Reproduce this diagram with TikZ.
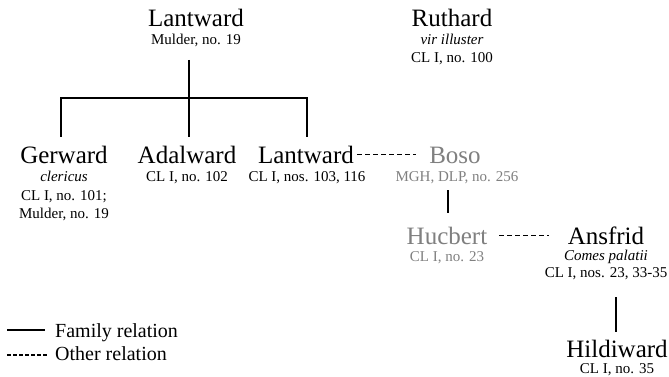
\documentclass[tikz,border=0pt]{standalone}
\usepackage{fontspec}
\setmainfont{Liberation Serif}
\begin{document}
\begin{tikzpicture}[x=1pt,y=-1pt,
  pname/.style={font=\fontsize{25}{30}\selectfont, inner sep=0pt, anchor=base},
  psub/.style={font=\fontsize{15}{18}\selectfont, inner sep=0pt, anchor=base},
  legtext/.style={font=\fontsize{20}{24}\selectfont, inner sep=0pt, anchor=base west},
  faded/.style={text=black!50},
  family/.style={line width=1.6pt},
  other/.style={line width=1.5pt, dash pattern=on 5pt off 3pt}]
\useasboundingbox[fill=white] (0,0) rectangle (669,377);

% top generation
\node[pname] (lwA) at (196,27) {Lantward};
\node[psub] (lwAs) at (196,45) {Mulder, no. 19};
\node[pname] (ruth) at (452,27) {Ruthard};
\node[psub] (ruths1) at (452,45) {\itshape vir illuster};
\node[psub] (ruths2) at (452,63) {CL I, no. 100};

% children
\node[pname] (gerw) at (64,163) {Gerward};
\node[psub] (gerws1) at (64,181) {\itshape clericus};
\node[psub] (gerws2) at (64,200) {CL I, no. 101;};
\node[psub] (gerws3) at (64,218) {Mulder, no. 19};
\node[pname] (adal) at (187,163) {Adalward};
\node[psub] (adals) at (187,181) {CL I, no. 102};
\node[pname] (lwB) at (306,163) {Lantward};
\node[psub] (lwBs) at (307,181) {CL I, nos. 103, 116};

% other persons
\node[pname,faded] (boso) at (455,163) {Boso};
\node[psub,faded] (bosos) at (457,181) {MGH, DLP, no. 256};
\node[pname,faded] (hucb) at (447,244) {Hucbert};
\node[psub,faded] (hucbs) at (447,261) {CL I, no. 23};
\node[pname] (ansf) at (606,244) {Ansfrid};
\node[psub] (ansfs1) at (606,260) {\itshape Comes palatii};
\node[psub] (ansfs2) at (606,277) {CL I, nos. 23, 33-35};
\node[pname] (hild) at (617,357) {Hildiward};
\node[psub] (hilds) at (617,373) {CL I, no. 35};

% family tree of Lantward
\coordinate (top) at (189,60);
\coordinate (mid) at (189,98);
\coordinate (gl) at (61,98);
\coordinate (gr) at (307,98);
\coordinate (gld) at (61,137);
\coordinate (gmd) at (189,137);
\coordinate (grd) at (307,137);
\draw[family] (top) -- (gmd);
\draw[family] (gld) -- (gl) -- (gr) -- (grd);

% other relations
\draw[other] ([xshift=3pt]lwB.east) -- ([xshift=-13pt]lwB.east -| boso.west);
\draw[other] ([xshift=12pt]hucb.east) -- ([xshift=-19pt]hucb.east -| ansf.west);

% family links on the right
\coordinate (bh1) at (448,190);
\coordinate (bh2) at (448,213);
\draw[family] (bh1) -- (bh2);
\coordinate (ah1) at (616,297);
\coordinate (ah2) at (616,332);
\draw[family] (ah1) -- (ah2);

% legend
\coordinate (l1a) at (7,330);
\coordinate (l1b) at (45,330);
\coordinate (l2a) at (7,355);
\coordinate (l2b) at (47,355);
\draw[family] (l1a) -- (l1b);
\draw[other, dash pattern=on 4pt off 2pt] (l2a) -- (l2b);
\node[legtext] (leg1) at (55,337) {Family relation};
\node[legtext] (leg2) at (55,360) {Other relation};
\end{tikzpicture}
\end{document}
